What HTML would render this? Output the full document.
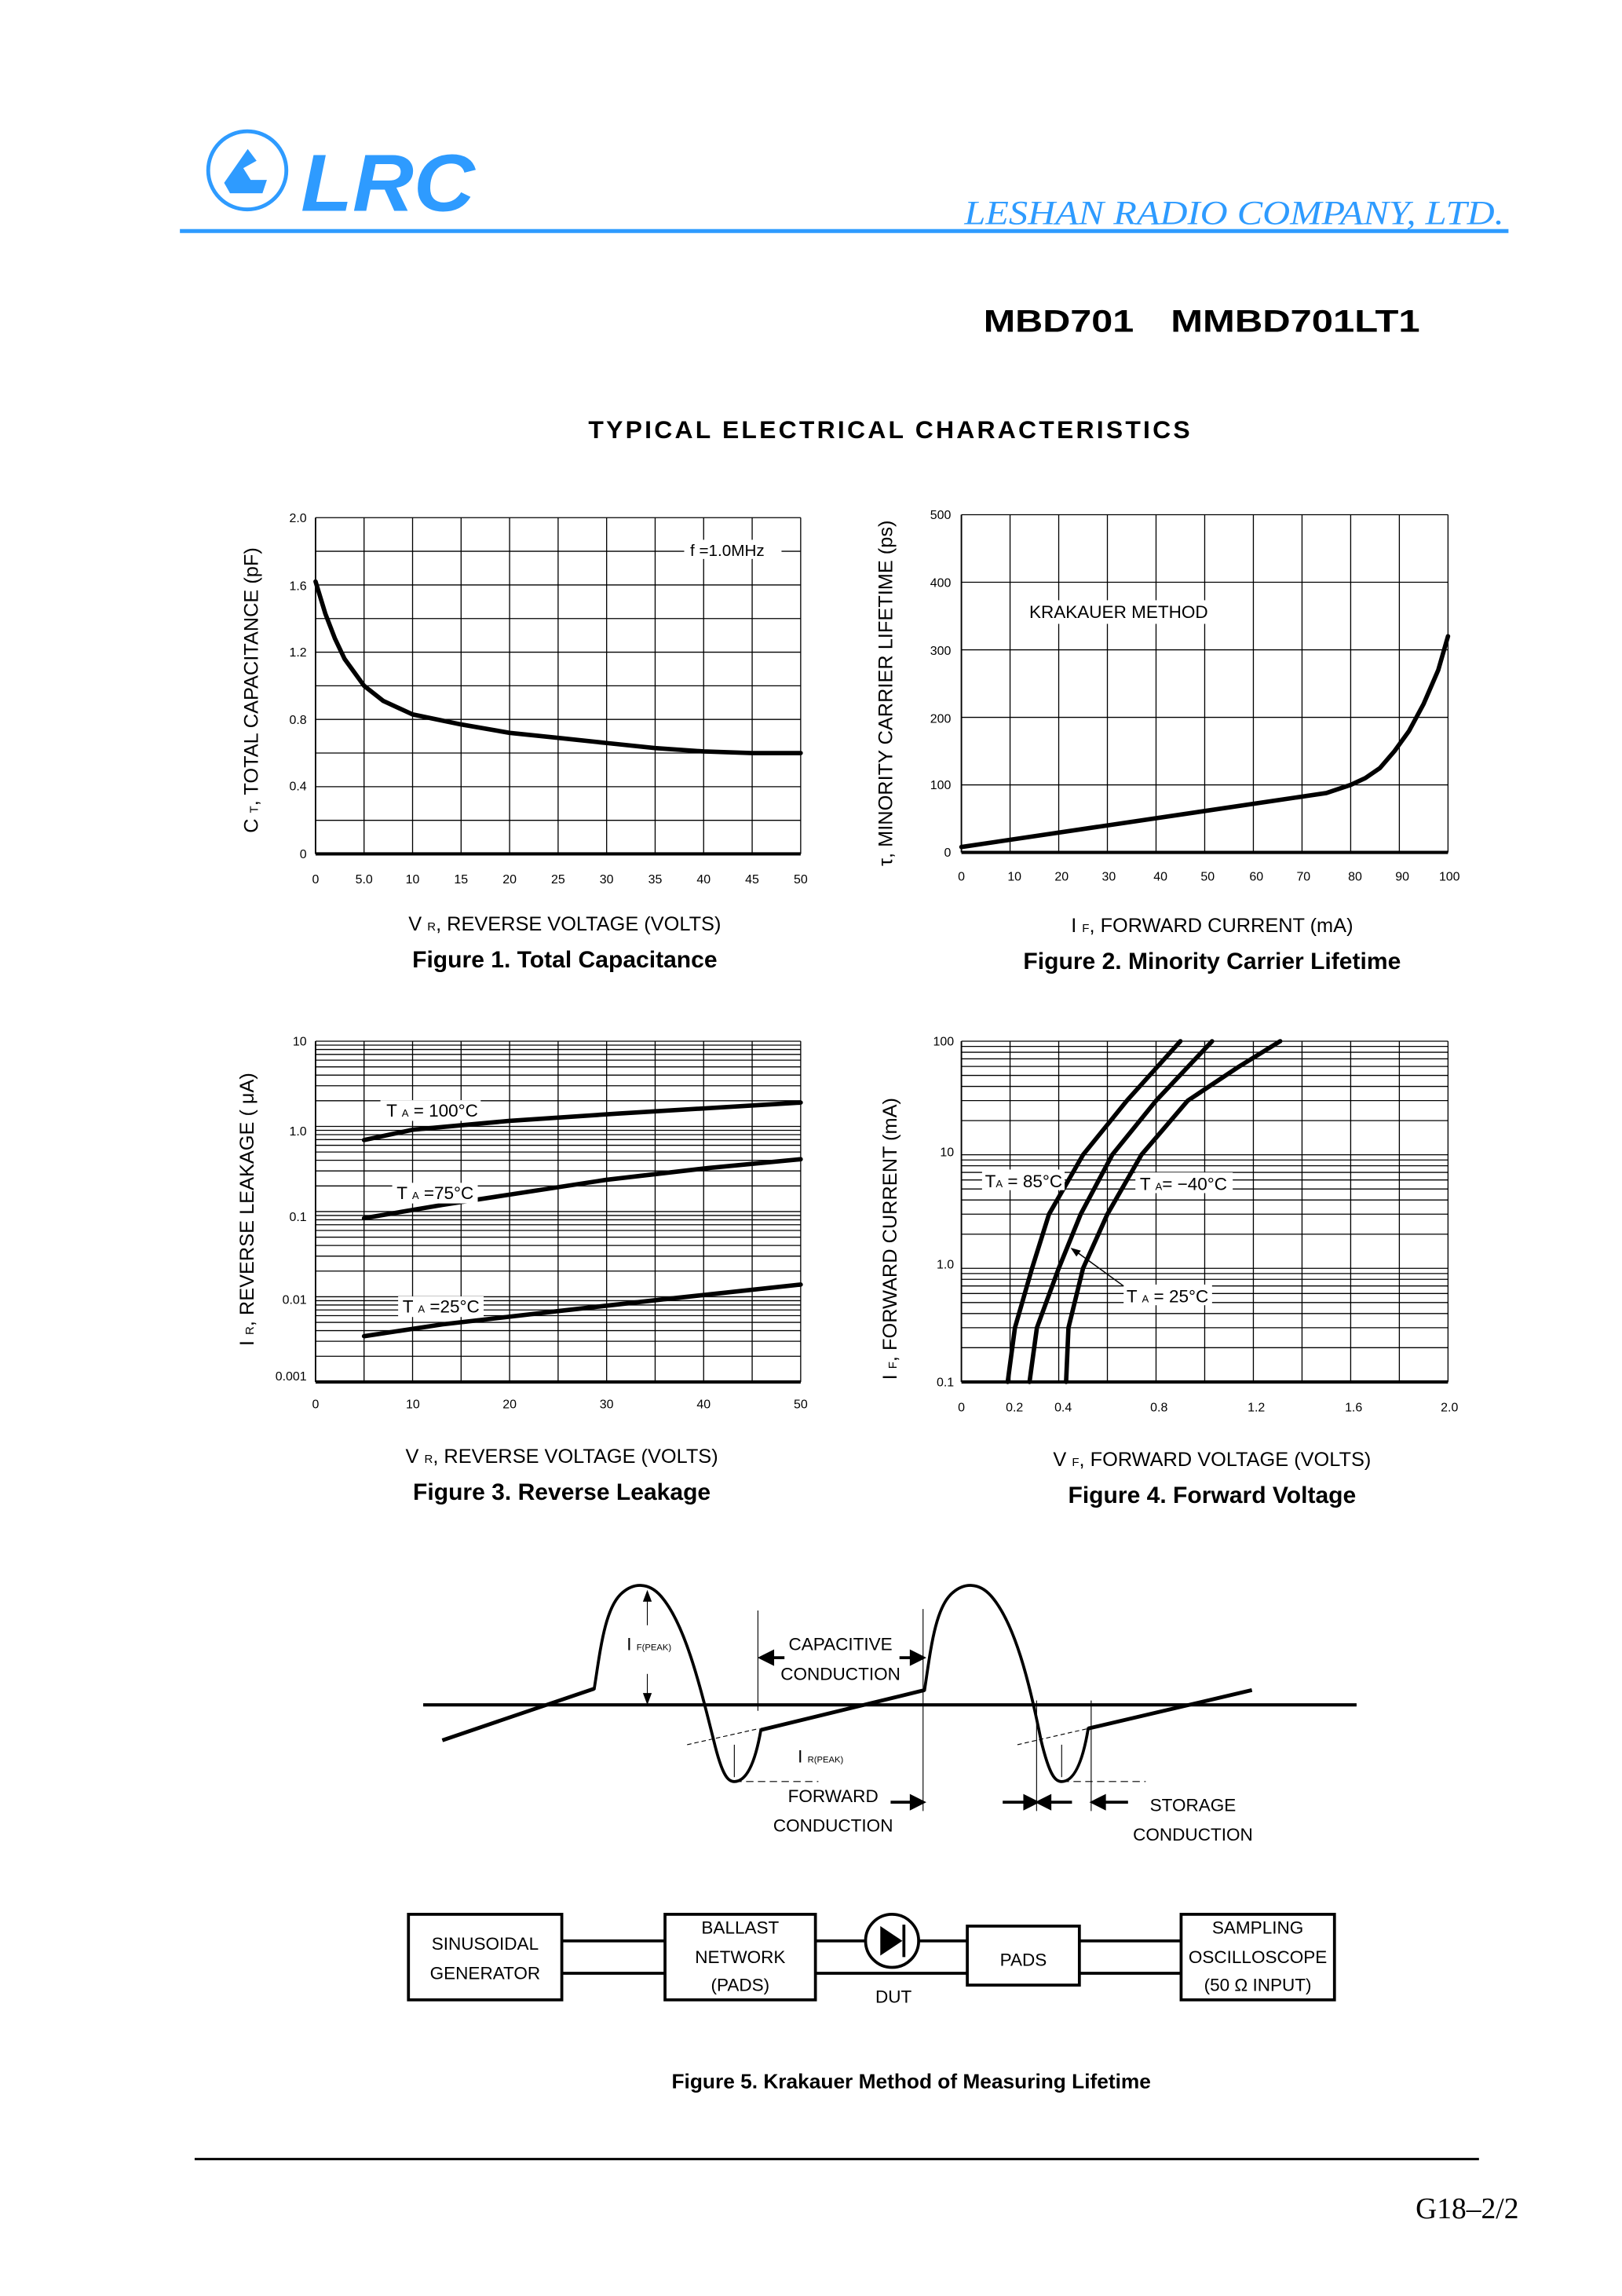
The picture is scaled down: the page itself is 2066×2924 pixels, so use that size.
<!DOCTYPE html>
<html><head><meta charset="utf-8"><style>
html,body{margin:0;padding:0;background:#fff}
svg{display:block}
text{font-family:"Liberation Sans",sans-serif;fill:#000}
.t{font-size:8.5px}
.ax{font-size:13.5px}
.ft{font-size:16px;font-weight:bold}
.g{stroke:#000;stroke-width:0.7;fill:none}
.c{stroke:#000;stroke-width:3;fill:none;stroke-linecap:round;stroke-linejoin:round}
.w{stroke:#000;stroke-width:2;fill:none}
.lbl{font-size:12px}
</style></head><body>
<svg width="2066" height="2924" viewBox="0 0 1100 1556.8" xmlns="http://www.w3.org/2000/svg">
<defs>
<g id="d3">
<line x1="214" x2="543" y1="0" y2="0"/><line x1="214" x2="543" y1="-17.38" y2="-17.38"/><line x1="214" x2="543" y1="-27.55" y2="-27.55"/><line x1="214" x2="543" y1="-34.77" y2="-34.77"/><line x1="214" x2="543" y1="-40.37" y2="-40.37"/><line x1="214" x2="543" y1="-44.93" y2="-44.93"/><line x1="214" x2="543" y1="-48.8" y2="-48.8"/><line x1="214" x2="543" y1="-52.15" y2="-52.15"/><line x1="214" x2="543" y1="-55.09" y2="-55.09"/>
</g>
<g id="d4">
<line x1="652" x2="982" y1="0" y2="0"/><line x1="652" x2="982" y1="-23.18" y2="-23.18"/><line x1="652" x2="982" y1="-36.74" y2="-36.74"/><line x1="652" x2="982" y1="-46.36" y2="-46.36"/><line x1="652" x2="982" y1="-53.82" y2="-53.82"/><line x1="652" x2="982" y1="-59.92" y2="-59.92"/><line x1="652" x2="982" y1="-65.07" y2="-65.07"/><line x1="652" x2="982" y1="-69.54" y2="-69.54"/><line x1="652" x2="982" y1="-73.48" y2="-73.48"/>
</g>
</defs>

<!-- Header -->
<circle cx="167.7" cy="115.5" r="26.5" fill="none" stroke="#2e9bff" stroke-width="2.6"/>
<path d="M152,124 L168,101 L174,109 L165,114 L170,122 L181,122 L178,131 L156,131 Z" fill="#2e9bff"/>
<text x="204" y="143" style="font-size:55px;font-weight:bold;font-style:italic;fill:#2e9bff" textLength="118" lengthAdjust="spacingAndGlyphs">LRC</text>
<text x="1020" y="152" text-anchor="end" style="font-family:'Liberation Serif',serif;font-size:23px;font-style:italic;fill:#2e9bff" textLength="366" lengthAdjust="spacingAndGlyphs">LESHAN RADIO COMPANY, LTD.</text>
<rect x="122" y="155.3" width="901" height="2.7" fill="#2e9bff"/>
<text x="667" y="225" style="font-size:21px;font-weight:bold" textLength="102" lengthAdjust="spacingAndGlyphs">MBD701</text>
<text x="794" y="225" style="font-size:21px;font-weight:bold" textLength="169" lengthAdjust="spacingAndGlyphs">MMBD701LT1</text>
<text x="399" y="297" style="font-size:17px;font-weight:bold" textLength="408" lengthAdjust="spacing">TYPICAL ELECTRICAL CHARACTERISTICS</text>

<!-- Fig 1 -->
<g class="g">
<path d="M246.9,351V579M279.8,351V579M312.7,351V579M345.6,351V579M378.5,351V579M411.4,351V579M444.3,351V579M477.2,351V579M510.1,351V579M543,351V579"/>
<path d="M214,351H543M214,373.8H543M214,396.6H543M214,419.4H543M214,442.2H543M214,465H543M214,487.8H543M214,510.6H543M214,533.4H543M214,556.2H543"/>
</g>
<line x1="214" y1="351" x2="214" y2="579" stroke="#000" stroke-width="1"/>
<line x1="214" y1="579" x2="543" y2="579" stroke="#000" stroke-width="2.2"/>
<rect x="464" y="366" width="66" height="13" fill="#fff"/>
<text x="468" y="377" class="lbl" style="font-size:11px">f =1.0MHz</text>
<path class="c" d="M214,394.3 L220.6,416 L227.2,433.1 L233.7,446.8 L246.9,465 L260,475.3 L279.8,484.4 L312.7,491.2 L345.6,496.9 L378.5,500.3 L411.4,503.8 L444.3,507.2 L477.2,509.5 L510,510.6 L543,510.6"/>
<g class="t" text-anchor="end">
<text x="208" y="354">2.0</text><text x="208" y="400">1.6</text><text x="208" y="445">1.2</text><text x="208" y="491">0.8</text><text x="208" y="536">0.4</text><text x="208" y="582">0</text>
</g>
<g class="t" text-anchor="middle">
<text x="214" y="599">0</text><text x="246.9" y="599">5.0</text><text x="279.8" y="599">10</text><text x="312.7" y="599">15</text><text x="345.6" y="599">20</text><text x="378.5" y="599">25</text><text x="411.4" y="599">30</text><text x="444.3" y="599">35</text><text x="477.2" y="599">40</text><text x="510.1" y="599">45</text><text x="543" y="599">50</text>
</g>
<text transform="translate(175,468) rotate(-90)" text-anchor="middle" class="ax">C <tspan font-size="8">T</tspan>, TOTAL CAPACITANCE (pF)</text>
<text x="383" y="631" text-anchor="middle" class="ax">V <tspan font-size="8">R</tspan>, REVERSE VOLTAGE (VOLTS)</text>
<text x="383" y="656" text-anchor="middle" class="ft">Figure 1. Total Capacitance</text>

<!-- Fig 2 -->
<g class="g">
<path d="M685,349V578M718,349V578M751,349V578M784,349V578M817,349V578M850,349V578M883,349V578M916,349V578M949,349V578M982,349V578"/>
<path d="M652,349H982M652,394.8H982M652,440.6H982M652,486.4H982M652,532.2H982"/>
</g>
<line x1="652" y1="349" x2="652" y2="578" stroke="#000" stroke-width="1"/>
<line x1="652" y1="578" x2="982" y2="578" stroke="#000" stroke-width="2.2"/>
<rect x="695" y="407" width="136" height="16" fill="#fff"/>
<text x="698" y="419" class="lbl">KRAKAUER METHOD</text>
<path class="c" d="M652,574.3 L899.5,537.7 L916,532.2 L925.9,527.6 L935.8,520.8 L945.7,509.3 L955.6,495.6 L965.5,477.2 L975.4,454.3 L982,431.4"/>
<g class="t" text-anchor="end">
<text x="645" y="352">500</text><text x="645" y="398">400</text><text x="645" y="444">300</text><text x="645" y="490">200</text><text x="645" y="535">100</text><text x="645" y="581">0</text>
</g>
<g class="t" text-anchor="middle">
<text x="652" y="597">0</text><text x="688" y="597">10</text><text x="720" y="597">20</text><text x="752" y="597">30</text><text x="787" y="597">40</text><text x="819" y="597">50</text><text x="852" y="597">60</text><text x="884" y="597">70</text><text x="919" y="597">80</text><text x="951" y="597">90</text><text x="983" y="597">100</text>
</g>
<text transform="translate(605,470) rotate(-90)" text-anchor="middle" class="ax">τ, MINORITY CARRIER LIFETIME (ps)</text>
<text x="822" y="632" text-anchor="middle" class="ax">I <tspan font-size="8">F</tspan>, FORWARD CURRENT (mA)</text>
<text x="822" y="657" text-anchor="middle" class="ft">Figure 2. Minority Carrier Lifetime</text>

<!-- Fig 3 -->
<g class="g">
<path d="M246.9,706V937M279.8,706V937M312.7,706V937M345.6,706V937M378.5,706V937M411.4,706V937M444.3,706V937M477.2,706V937M510.1,706V937M543,706V937"/>
<use href="#d3" y="937"/><use href="#d3" y="879.25"/><use href="#d3" y="821.5"/><use href="#d3" y="763.75"/>
<line x1="214" x2="543" y1="706" y2="706"/>
</g>
<line x1="214" y1="706" x2="214" y2="937" stroke="#000" stroke-width="1"/>
<line x1="214" y1="937" x2="543" y2="937" stroke="#000" stroke-width="2.2"/>
<path class="c" d="M246.9,773 L280,766 L345.6,760 L420,755 L543,747.6"/>
<path class="c" d="M246.9,826 L300,817 L345.6,810 L411,800 L480,792 L543,786"/>
<path class="c" d="M246.9,906 L300,898 L378.5,889 L450,881 L543,871"/>
<rect x="258" y="746" width="68" height="14" fill="#fff"/>
<text x="262" y="757" class="lbl">T <tspan font-size="7">A</tspan> = 100°C</text>
<rect x="266" y="802" width="58" height="14" fill="#fff"/>
<text x="269" y="813" class="lbl">T <tspan font-size="7">A</tspan> =75°C</text>
<rect x="270" y="879" width="58" height="14" fill="#fff"/>
<text x="273" y="890" class="lbl">T <tspan font-size="7">A</tspan> =25°C</text>
<g class="t" text-anchor="end">
<text x="208" y="709">10</text><text x="208" y="770">1.0</text><text x="208" y="828">0.1</text><text x="208" y="884">0.01</text><text x="208" y="936">0.001</text>
</g>
<g class="t" text-anchor="middle">
<text x="214" y="955">0</text><text x="280" y="955">10</text><text x="345.6" y="955">20</text><text x="411.4" y="955">30</text><text x="477.2" y="955">40</text><text x="543" y="955">50</text>
</g>
<text transform="translate(172,820) rotate(-90)" text-anchor="middle" class="ax">I <tspan font-size="8">R</tspan>, REVERSE LEAKAGE ( μA)</text>
<text x="381" y="992" text-anchor="middle" class="ax">V <tspan font-size="8">R</tspan>, REVERSE VOLTAGE (VOLTS)</text>
<text x="381" y="1017" text-anchor="middle" class="ft">Figure 3. Reverse Leakage</text>

<!-- Fig 4 -->
<g class="g">
<path d="M685,706V937M718,706V937M751,706V937M784,706V937M817,706V937M850,706V937M883,706V937M916,706V937M949,706V937M982,706V937"/>
<use href="#d4" y="937"/><use href="#d4" y="860"/><use href="#d4" y="783"/>
<line x1="652" x2="982" y1="706" y2="706"/>
</g>
<line x1="652" y1="706" x2="652" y2="937" stroke="#000" stroke-width="1"/>
<line x1="652" y1="937" x2="982" y2="937" stroke="#000" stroke-width="2.2"/>
<path class="c" d="M683.4,937 L688.3,900.3 L699.9,860 L711.4,823.3 L734.5,783 L764.2,746.3 L800.5,706"/>
<path class="c" d="M698.2,937 L703.2,900.3 L718,860 L732.9,823.3 L754.3,783 L784,746.3 L822,706"/>
<path class="c" d="M723,937 L724.6,900.3 L734.5,860 L751,823.3 L774.1,783 L805.5,746.3 L840.1,723.3 L868.2,706"/>
<rect x="666" y="793" width="56" height="14" fill="#fff"/>
<text x="668" y="805" class="lbl">T<tspan font-size="7">A</tspan> = 85°C</text>
<rect x="770" y="795" width="66" height="14" fill="#fff"/>
<text x="773" y="807" class="lbl">T <tspan font-size="7">A</tspan>= −40°C</text>
<rect x="762" y="871" width="60" height="14" fill="#fff"/>
<text x="764" y="883" class="lbl">T <tspan font-size="7">A</tspan> = 25°C</text>
<line x1="762" y1="872" x2="729" y2="848" stroke="#000" stroke-width="0.8"/>
<path d="M726,846 L733,848 L730,852 Z" fill="#000"/>
<g class="t" text-anchor="end">
<text x="647" y="709">100</text><text x="647" y="784">10</text><text x="647" y="860">1.0</text><text x="647" y="940">0.1</text>
</g>
<g class="t" text-anchor="middle">
<text x="652" y="957">0</text><text x="688" y="957">0.2</text><text x="721" y="957">0.4</text><text x="786" y="957">0.8</text><text x="852" y="957">1.2</text><text x="918" y="957">1.6</text><text x="983" y="957">2.0</text>
</g>
<text transform="translate(608,840) rotate(-90)" text-anchor="middle" class="ax">I <tspan font-size="8">F</tspan>, FORWARD CURRENT (mA)</text>
<text x="822" y="994" text-anchor="middle" class="ax">V <tspan font-size="8">F</tspan>, FORWARD VOLTAGE (VOLTS)</text>
<text x="822" y="1019" text-anchor="middle" class="ft">Figure 4. Forward Voltage</text>

<!-- Waveform -->
<line x1="287" y1="1156" x2="920" y2="1156" stroke="#000" stroke-width="2.2"/>
<path class="w" d="M300,1180 L403,1145 C407,1120 410,1090 422,1080 C430,1073 440,1073 448,1082 C464,1100 474,1140 484,1180 C490,1205 494,1208 498,1208 C506,1208 512,1196 516,1173 L627,1146 C631,1120 634,1090 646,1080 C654,1073 664,1073 672,1082 C688,1100 698,1140 706,1180 C712,1205 716,1208 720,1208 C728,1208 734,1196 738,1172 L849,1146"/>
<path d="M300,1180 L403,1145 M516,1173 L627,1146 M738,1172 L849,1146" stroke="#000" stroke-width="2.6" fill="none"/>
<g stroke="#000" stroke-width="0.6" fill="none">
<line x1="514" y1="1092" x2="514" y2="1160"/>
<line x1="626" y1="1091" x2="626" y2="1228"/>
<line x1="703" y1="1153" x2="703" y2="1228"/>
<line x1="740" y1="1153" x2="740" y2="1228"/>
<line x1="466" y1="1183" x2="515" y2="1172" stroke-dasharray="3,2"/>
<line x1="690" y1="1183" x2="738" y2="1172" stroke-dasharray="3,2"/>
<line x1="498" y1="1183" x2="498" y2="1205"/>
<line x1="720" y1="1183" x2="720" y2="1205"/>
<line x1="498" y1="1208" x2="555" y2="1208" stroke-dasharray="5,3"/>
<line x1="720" y1="1208" x2="777" y2="1208" stroke-dasharray="5,3"/>
<line x1="439" y1="1080" x2="439" y2="1102"/>
<line x1="439" y1="1135" x2="439" y2="1156"/>
</g>
<path d="M439,1078 L436,1086 L442,1086 Z M439,1156 L436,1148 L442,1148 Z" fill="#000"/>
<text x="425" y="1119" class="lbl">I <tspan font-size="6">F(PEAK)</tspan></text>
<text x="570" y="1119" text-anchor="middle" class="lbl">CAPACITIVE</text>
<text x="570" y="1139" text-anchor="middle" class="lbl">CONDUCTION</text>
<path d="M516,1124 L524,1120 L524,1128 Z M524,1124 H532" stroke="#000" stroke-width="2" fill="#000"/>
<path d="M626,1124 L618,1120 L618,1128 Z M610,1124 H618" stroke="#000" stroke-width="2" fill="#000"/>
<text x="541" y="1195" class="lbl">I <tspan font-size="6">R(PEAK)</tspan></text>
<text x="565" y="1222" text-anchor="middle" class="lbl">FORWARD</text>
<text x="565" y="1242" text-anchor="middle" class="lbl">CONDUCTION</text>
<path d="M626,1222 L618,1218 L618,1226 Z M604,1222 H618" stroke="#000" stroke-width="2" fill="#000"/>
<path d="M703,1222 L695,1218 L695,1226 Z M680,1222 H695" stroke="#000" stroke-width="2" fill="#000"/>
<path d="M704,1222 L712,1218 L712,1226 Z M712,1222 H727" stroke="#000" stroke-width="2" fill="#000"/>
<path d="M741,1222 L749,1218 L749,1226 Z M749,1222 H765" stroke="#000" stroke-width="2" fill="#000"/>
<text x="809" y="1228" text-anchor="middle" class="lbl">STORAGE</text>
<text x="809" y="1248" text-anchor="middle" class="lbl">CONDUCTION</text>

<!-- Block diagram -->
<g stroke="#000" stroke-width="2" fill="none">
<rect x="277" y="1298" width="104" height="58"/>
<rect x="451" y="1298" width="102" height="58"/>
<rect x="656" y="1306" width="76" height="40"/>
<rect x="801" y="1298" width="104" height="58"/>
<path d="M381,1316H451M381,1338H451M553,1316H656M553,1338H656M732,1316H801M732,1338H801"/>
</g>
<circle cx="605" cy="1316" r="18" fill="#fff" stroke="#000" stroke-width="2"/>
<path d="M597,1306 L612,1316 L597,1326 Z" fill="#000"/>
<line x1="613" y1="1305" x2="613" y2="1327" stroke="#000" stroke-width="2"/>
<g class="lbl" text-anchor="middle">
<text x="329" y="1322">SINUSOIDAL</text><text x="329" y="1342">GENERATOR</text>
<text x="502" y="1311">BALLAST</text><text x="502" y="1331">NETWORK</text><text x="502" y="1350">(PADS)</text>
<text x="606" y="1358">DUT</text>
<text x="694" y="1333">PADS</text>
<text x="853" y="1311">SAMPLING</text><text x="853" y="1331">OSCILLOSCOPE</text><text x="853" y="1350">(50 Ω INPUT)</text>
</g>
<text x="618" y="1416" text-anchor="middle" style="font-size:14px;font-weight:bold">Figure 5. Krakauer Method of Measuring Lifetime</text>

<line x1="132" y1="1464" x2="1003" y2="1464" stroke="#000" stroke-width="1.6"/>
<text x="1030" y="1504" text-anchor="end" style="font-family:'Liberation Serif',serif;font-size:20px">G18–2/2</text>
</svg>
</body></html>
